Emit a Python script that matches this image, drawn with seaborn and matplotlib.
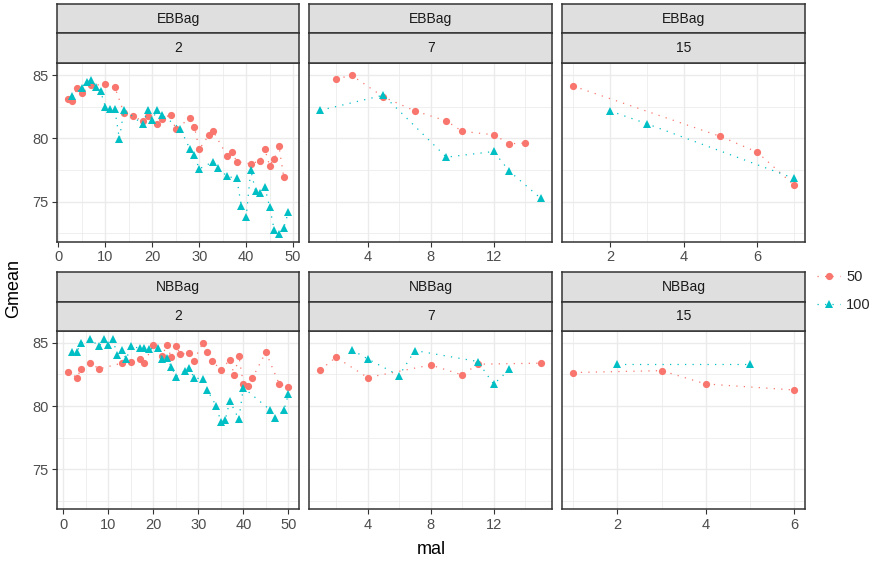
import numpy as np
import pandas as pd
import seaborn as sns
from matplotlib import pyplot as plt
from matplotlib.lines import Line2D
from matplotlib.ticker import FixedLocator

# ---- data ----
methods = ["EBBag", "NBBag"]
ks = [2, 7, 15]
sizes = ["50", "100"]

eb2_50_mal = [2, 3, 4, 5, 7, 10, 12, 14, 16, 18, 19, 21, 22, 24, 25, 28, 29, 30, 32, 33,
              36, 37, 38, 41, 43, 44, 45, 46, 47, 48]
eb2_50_gmean = [83.15, 82.94, 84.0, 83.6, 84.2, 84.26, 84.07, 82.0, 81.75, 81.35, 81.75, 81.16,
                81.56, 81.88, 80.71, 81.6, 80.9, 79.13, 80.24, 80.56, 78.6, 78.9, 78.17, 77.99,
                78.25, 79.13, 77.86, 78.39, 79.37, 76.98]
eb2_100_mal = [3, 5, 6, 7, 8, 9, 10, 11, 12, 13, 14, 18, 19, 20, 21, 22, 26, 28, 29, 30, 33, 34,
               36, 38, 39, 40, 41, 42, 43, 44, 45, 46, 47, 48, 49]
eb2_100_gmean = [83.33, 84.02, 84.47, 84.6, 84.07, 83.73, 82.49, 82.35, 82.35, 79.97, 82.28,
                 81.11, 82.22, 81.48, 82.22, 81.88, 80.77, 79.18, 78.7, 77.59, 78.17, 77.67, 77.0,
                 76.85, 74.63, 73.8, 77.5, 75.87, 75.66, 76.14, 74.6, 72.75, 72.49, 72.9, 74.2]

eb7_50_mal = [2, 3, 5, 7, 9, 10, 12, 13, 14]
eb7_50_gmean = [84.71, 84.97, 83.28, 82.17, 81.38, 80.56, 80.29, 79.58, 79.63]
eb7_100_mal = [1, 5, 9, 12, 13, 15]
eb7_100_gmean = [82.22, 83.41, 78.52, 78.97, 77.41, 75.26]

eb15_50_mal = [1, 5, 6, 7]
eb15_50_gmean = [84.13, 80.16, 78.92, 76.32]
eb15_100_mal = [2, 3, 7]
eb15_100_gmean = [82.17, 81.16, 76.85]

nb2_50_mal = [1, 3, 4, 6, 8, 13, 15, 17, 18, 20, 22, 23, 24, 25, 26, 28, 29, 31, 32, 33, 35,
              37, 38, 39, 40, 41, 42, 45, 48, 50]
nb2_50_gmean = [82.72, 82.25, 82.94, 83.39, 82.94, 83.39, 83.52, 83.7, 83.44, 84.79, 83.97,
                84.84, 83.84, 84.76, 84.1, 84.18, 83.6, 84.97, 84.26, 83.6, 82.86, 83.65, 82.46,
                83.97, 81.75, 81.59, 82.2, 84.26, 81.72, 81.53]
nb2_100_mal = [2, 3, 4, 6, 8, 9, 10, 11, 12, 13, 14, 15, 17, 18, 19, 21, 22, 23, 24, 25, 27,
               28, 29, 31, 32, 34, 35, 36, 37, 39, 40, 46, 47, 49, 50]
nb2_100_gmean = [84.26, 84.26, 84.97, 85.29, 84.71, 85.29, 84.79, 85.29, 84.05, 84.44, 83.7,
                 84.71, 84.58, 84.58, 84.5, 84.58, 83.7, 83.78, 83.12, 82.33, 82.8, 83.04, 82.25,
                 82.12, 81.27, 80.0, 78.76, 78.94, 80.4, 78.97, 81.46, 79.68, 79.07, 79.68, 80.93]

nb7_50_mal = [1, 2, 4, 8, 10, 11, 15]
nb7_50_gmean = [82.86, 83.86, 82.25, 83.25, 82.46, 83.31, 83.39]
nb7_100_mal = [3, 4, 6, 7, 11, 12, 13]
nb7_100_gmean = [84.44, 83.73, 82.41, 84.39, 83.52, 81.72, 82.91]

nb15_50_mal = [1, 3, 4, 6]
nb15_50_gmean = [82.65, 82.8, 81.75, 81.27]
nb15_100_mal = [2, 5]
nb15_100_gmean = [83.33, 83.33]

series = {
    ("EBBag", 2, "50"): (eb2_50_mal, eb2_50_gmean),
    ("EBBag", 2, "100"): (eb2_100_mal, eb2_100_gmean),
    ("EBBag", 7, "50"): (eb7_50_mal, eb7_50_gmean),
    ("EBBag", 7, "100"): (eb7_100_mal, eb7_100_gmean),
    ("EBBag", 15, "50"): (eb15_50_mal, eb15_50_gmean),
    ("EBBag", 15, "100"): (eb15_100_mal, eb15_100_gmean),
    ("NBBag", 2, "50"): (nb2_50_mal, nb2_50_gmean),
    ("NBBag", 2, "100"): (nb2_100_mal, nb2_100_gmean),
    ("NBBag", 7, "50"): (nb7_50_mal, nb7_50_gmean),
    ("NBBag", 7, "100"): (nb7_100_mal, nb7_100_gmean),
    ("NBBag", 15, "50"): (nb15_50_mal, nb15_50_gmean),
    ("NBBag", 15, "100"): (nb15_100_mal, nb15_100_gmean),
}

rows = []
for (m, k, s), (xs, ys) in series.items():
    for x, y in zip(xs, ys):
        rows.append({"method": m, "k": k, "size": s, "mal": x, "Gmean": y})
df = pd.DataFrame(rows)

major_ticks = {2: [0, 10, 20, 30, 40, 50], 7: [4, 8, 12], 15: [2, 4, 6]}
minor_ticks = {2: [5, 15, 25, 35, 45], 7: [2, 6, 10, 14], 15: [1, 3, 5, 7]}

palette = {"50": "#F8766D", "100": "#00BFC4"}
markers = {"50": "o", "100": "^"}
dashes = {"50": (1, 5), "100": (1, 5)}
msize = {"50": 5.2, "100": 6.0}

# ---- layout (pixels of the 877x562 reference) ----
W, H = 877, 562
sns.set_theme(style="white")
plt.rcParams["font.family"] = ["Liberation Sans", "DejaVu Sans"]

fig = plt.figure(figsize=(W / 100, H / 100), dpi=100)

col_left = [56.7, 309.3, 562.3]
col_w = 242.7
row_panel = [(63.3, 241.7), (331.0, 509.3)]
row_strips = [(4.0, 33.3, 63.3), (271.7, 301.7, 331.0)]

ymin, ymax = df["Gmean"].min(), df["Gmean"].max()
ypad = (ymax - ymin) * 0.05

border = "#333333"
strip_fill = "#DFDFDF"


def fig_rect(x0, top, w, bottom):
    return [x0 / W, 1 - bottom / H, w / W, (bottom - top) / H]


for r, m in enumerate(methods):
    for c, k in enumerate(ks):
        ax = fig.add_axes(fig_rect(col_left[c], row_panel[r][0], col_w, row_panel[r][1]))
        sub = df[(df["method"] == m) & (df["k"] == k)]
        sns.lineplot(data=sub, x="mal", y="Gmean", hue="size", style="size",
                     hue_order=sizes, style_order=sizes, palette=palette,
                     markers=markers, dashes=dashes, linewidth=0.9,
                     markeredgewidth=0, sort=False, legend=False, ax=ax, zorder=3)
        for ln in ax.lines:
            ln.set_markersize(msize["100"] if ln.get_marker() == "^" else msize["50"])

        xmin, xmax = sub["mal"].min(), sub["mal"].max()
        xpad = (xmax - xmin) * 0.05
        ax.set_xlim(xmin - xpad, xmax + xpad)
        ax.set_ylim(ymin - ypad, ymax + ypad)

        ax.xaxis.set_major_locator(FixedLocator(major_ticks[k]))
        ax.xaxis.set_minor_locator(FixedLocator(minor_ticks[k]))
        ax.yaxis.set_major_locator(FixedLocator([75, 80, 85]))
        ax.yaxis.set_minor_locator(FixedLocator([72.5, 77.5, 82.5]))
        ax.grid(which="major", color="#EBEBEB", linewidth=1.0)
        ax.grid(which="minor", color="#EBEBEB", linewidth=0.55)
        ax.set_axisbelow(True)

        ax.tick_params(which="major", direction="out", length=3.5, width=0.8,
                       color=border, labelsize=10.5, labelcolor="#4D4D4D", pad=2.5)
        ax.tick_params(which="minor", length=0)
        ax.tick_params(axis="x", bottom=True)
        ax.tick_params(axis="y", left=(c == 0), labelleft=(c == 0))
        ax.set_xlabel("")
        ax.set_ylabel("")
        for sp in ax.spines.values():
            sp.set_color(border)
            sp.set_linewidth(1.1)

        # two stacked strips above each panel
        t0, t1, t2 = row_strips[r]
        for (top, bottom), label in [((t0, t1), m), ((t1, t2), str(k))]:
            sax = fig.add_axes(fig_rect(col_left[c], top, col_w, bottom))
            sax.set_facecolor(strip_fill)
            sax.set_xticks([])
            sax.set_yticks([])
            for sp in sax.spines.values():
                sp.set_color(border)
                sp.set_linewidth(1.1)
            sax.text(0.5, 0.5, label, ha="center", va="center", fontsize=10,
                     color="#1A1A1A", transform=sax.transAxes)

fig.text(14 / W, 1 - 288 / H, "Gmean", rotation=90, ha="center", va="center",
         fontsize=13, color="black")
fig.text(431 / W, 1 - 550 / H, "mal", ha="center", va="center", fontsize=13, color="black")

handles = [
    Line2D([], [], color=palette[s], marker=markers[s], linestyle=(0, (1, 5)),
           linewidth=0.9, markersize=msize[s], markeredgewidth=0)
    for s in sizes
]
fig.legend(handles, sizes, loc="center left", bbox_to_anchor=(817 / W, 1 - 291 / H),
           frameon=False, fontsize=10.5, handlelength=1.6, handletextpad=0.4,
           labelspacing=1.0, borderaxespad=0, borderpad=0)

fig.savefig("out.png", dpi=100)
